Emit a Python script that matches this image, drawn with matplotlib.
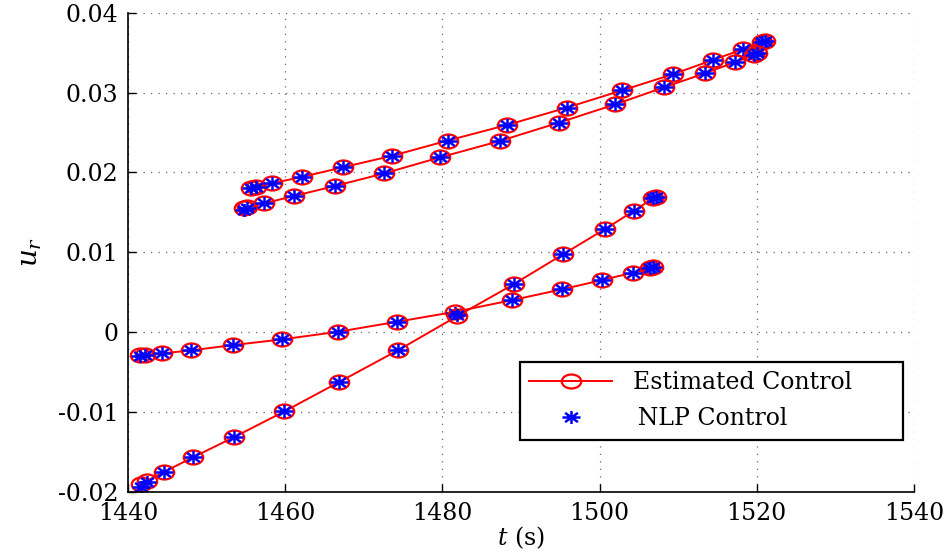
import numpy as np
import matplotlib.pyplot as plt
from matplotlib.path import Path
from matplotlib.ticker import FixedLocator, FuncFormatter

plt.rcParams['font.family'] = 'DejaVu Serif'
plt.rcParams['mathtext.fontset'] = 'dejavuserif'

# Trajetórias de controle (4 arcos)
t_a = [1455.7, 1456.3, 1458.3, 1462.2, 1467.3, 1473.6, 1480.7, 1488.2,
       1495.8, 1502.9, 1509.3, 1514.4, 1518.2, 1520.7, 1521.0]
u_a = [0.01808, 0.01820, 0.01863, 0.01945, 0.02063, 0.02208, 0.02399, 0.02593,
       0.02810, 0.03028, 0.03228, 0.03407, 0.03541, 0.03629, 0.03641]

t_b = [1454.7, 1455.1, 1457.3, 1461.1, 1466.3, 1472.6, 1479.7, 1487.3,
       1494.8, 1502.0, 1508.2, 1513.4, 1517.2, 1519.6, 1520.0]
u_b = [0.01550, 0.01562, 0.01612, 0.01704, 0.01829, 0.01988, 0.02188, 0.02393,
       0.02622, 0.02852, 0.03065, 0.03241, 0.03378, 0.03470, 0.03491]

t_c = [1441.5, 1442.2, 1444.3, 1448.0, 1453.3, 1459.6, 1466.7, 1474.2,
       1481.6, 1488.9, 1495.2, 1500.3, 1504.2, 1506.4, 1506.8]
u_c = [-0.00288, -0.00288, -0.00267, -0.00229, -0.00163, -0.00091, 0.00004, 0.00129,
       0.00254, 0.00401, 0.00535, 0.00651, 0.00743, 0.00798, 0.00810]

t_d = [1441.7, 1442.4, 1444.6, 1448.3, 1453.5, 1459.9, 1466.9, 1474.4,
       1481.9, 1489.1, 1495.4, 1500.7, 1504.4, 1506.8, 1507.2]
u_d = [-0.01904, -0.01863, -0.01750, -0.01566, -0.01315, -0.00993, -0.00623, -0.00225,
       0.00200, 0.00601, 0.00977, 0.01290, 0.01520, 0.01675, 0.01695]

# controle do NLP (quase igual ao estimado)
nlp_u_a = [0.01800, 0.01818, 0.01863, 0.01945, 0.02063, 0.02208, 0.02399, 0.02593,
           0.02810, 0.03028, 0.03228, 0.03407, 0.03541, 0.03629, 0.03641]
nlp_u_b = [0.01535, 0.01555, 0.01612, 0.01704, 0.01829, 0.01988, 0.02188, 0.02393,
           0.02622, 0.02852, 0.03065, 0.03241, 0.03378, 0.03470, 0.03491]
nlp_u_c = [-0.00295, -0.00285, -0.00267, -0.00229, -0.00163, -0.00091, 0.00004, 0.00129,
           0.00240, 0.00401, 0.00535, 0.00651, 0.00743, 0.00798, 0.00810]
nlp_u_d = [-0.01935, -0.01880, -0.01750, -0.01566, -0.01315, -0.00993, -0.00623, -0.00225,
           0.00215, 0.00601, 0.00977, 0.01290, 0.01520, 0.01675, 0.01695]

xticks = [1440, 1460, 1480, 1500, 1520, 1540]
yticks = [-0.02, -0.01, 0, 0.01, 0.02, 0.03, 0.04]

# marcadores achatados (elipse e asterisco de 8 pontas)
sy = 0.72
circ = Path.unit_circle()
ellipse = Path(circ.vertices * [1, sy], circ.codes)
ang = np.deg2rad(np.arange(0, 360, 45))
verts, codes = [], []
for a in ang:
    verts += [(0, 0), (np.cos(a), sy * np.sin(a))]
    codes += [Path.MOVETO, Path.LINETO]
star = Path(verts, codes)

fig = plt.figure(figsize=(9.48, 5.52), dpi=100)
ax = fig.add_axes([0.135, 0.109, 0.829, 0.868])

series = [(t_a, u_a, nlp_u_a), (t_b, u_b, nlp_u_b),
          (t_c, u_c, nlp_u_c), (t_d, u_d, nlp_u_d)]
for i, (t, u, un) in enumerate(series):
    ax.plot(t, u, color='red', lw=1.4, marker=ellipse, ms=14,
            mfc='none', mec='red', mew=1.6,
            label='Estimated Control' if i == 0 else None)
    ax.plot(t, un, ls='none', marker=star, ms=13, mfc='none',
            mec='blue', mew=1.8,
            label='\u2009NLP Control' if i == 0 else None)

ax.set_xlim(1440, 1540)
ax.set_ylim(-0.02, 0.04)
ax.xaxis.set_major_locator(FixedLocator(xticks))
ax.yaxis.set_major_locator(FixedLocator(yticks))
ax.yaxis.set_major_formatter(FuncFormatter(lambda v, p: '0' if abs(v) < 1e-9 else f'{v:g}'))
ax.tick_params(direction='in', length=6, width=1, labelsize=17, pad=7)

ax.grid(True, color='0.4', linestyle=(0, (1, 5)), linewidth=0.9)
ax.spines['top'].set_visible(False)
ax.spines['right'].set_visible(False)
ax.spines['left'].set_linewidth(1.2)
ax.spines['bottom'].set_linewidth(1.2)

ax.set_xlabel(r'$t$ (s)', fontsize=17, labelpad=0)
ax.set_ylabel(r'$u_r$', fontsize=20, labelpad=10)

leg = ax.legend(loc='lower left', bbox_to_anchor=(0.4987, 0.1086, 0.487, 0.16),
                mode='expand', fancybox=False, framealpha=1, edgecolor='black',
                fontsize=17, handlelength=3.5, handletextpad=0.9,
                borderpad=0.4, labelspacing=0.55, borderaxespad=0)
leg.get_frame().set_linewidth(1.6)

fig.savefig('out.png', dpi=100)
